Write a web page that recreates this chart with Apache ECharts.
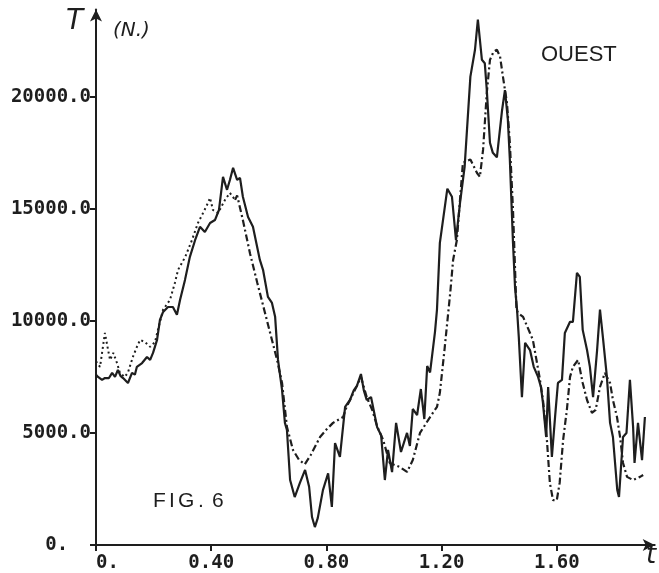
<!DOCTYPE html>
<html>
<head>
<meta charset="utf-8">
<script src="https://cdn.jsdelivr.net/npm/echarts@6/dist/echarts.min.js"></script>
<style>html,body{margin:0;padding:0;background:#fff;}#c{width:659px;height:573px;}</style>
</head>
<body>
<div id="c"></div>
<script>
// Solid curve (measured)
const solidT = [0.0,0.007,0.021,0.031,0.045,0.056,0.066,0.076,0.085,0.094,0.111,0.125,0.135,0.142,0.16,0.177,0.188,0.198,0.212,0.222,0.233,0.25,0.267,0.281,0.292,0.309,0.326,0.344,0.361,0.378,0.396,0.413,0.427,0.441,0.455,0.465,0.476,0.49,0.5,0.51,0.528,0.545,0.569,0.58,0.597,0.611,0.622,0.632,0.646,0.656,0.663,0.674,0.69,0.708,0.726,0.74,0.75,0.76,0.77,0.788,0.806,0.819,0.83,0.847,0.865,0.882,0.895,0.906,0.92,0.93,0.94,0.955,0.976,0.99,1.003,1.014,1.028,1.042,1.059,1.08,1.09,1.10,1.115,1.128,1.14,1.15,1.16,1.177,1.184,1.194,1.22,1.236,1.25,1.264,1.28,1.30,1.316,1.326,1.34,1.35,1.357,1.368,1.378,1.392,1.41,1.42,1.43,1.437,1.448,1.455,1.462,1.468,1.479,1.49,1.507,1.52,1.535,1.545,1.552,1.563,1.57,1.583,1.594,1.604,1.618,1.628,1.646,1.656,1.67,1.68,1.69,1.705,1.715,1.726,1.74,1.75,1.76,1.774,1.785,1.795,1.81,1.816,1.83,1.842,1.854,1.865,1.87,1.882,1.896,1.906];
const solidV = [7600,7500,7370,7450,7450,7680,7500,7810,7550,7450,7230,7680,7600,7950,8120,8390,8260,8570,9150,10040,10400,10620,10620,10270,10940,11830,12860,13600,14200,13970,14370,14500,14950,16430,15850,16290,16830,16290,16380,15540,14640,14200,12720,12280,11070,10800,10180,8260,6920,5450,5130,2900,2140,2770,3350,2600,1250,800,1200,2450,3200,1700,4550,3930,6160,6470,6900,7100,7630,6900,6470,6600,5270,4900,2900,4240,3250,5450,4150,5000,4420,6070,5800,6960,5620,7990,7700,9500,10500,13480,15900,15540,13600,15270,16870,20900,22100,23440,21650,21500,20300,17950,17500,17300,19400,20300,19000,17200,13480,11500,10500,9300,6600,9020,8700,7950,7500,7050,6340,4820,7050,3930,5710,7230,7370,9460,9960,9960,12140,11960,9600,8700,7950,6600,8700,10500,9290,7500,5450,4820,2460,2140,4820,5000,7370,5270,3660,5450,3790,5710];

// Computed curve, first part (dotted)
const dotT = [0.0,0.014,0.031,0.042,0.049,0.06,0.073,0.083,0.10,0.111,0.128,0.142,0.153,0.17,0.188,0.205,0.215,0.233,0.257,0.274,0.285,0.31,0.333,0.354,0.372,0.389,0.396,0.406,0.424,0.448,0.465,0.483];
const dotV = [8200,7950,9460,8700,8260,8570,8120,7680,7500,7700,8390,8840,9150,9060,8840,9060,9600,10500,10940,11700,12280,12860,13600,14370,14820,15270,15490,14950,14820,15400,15710,15400];

// Computed curve, second part (dash-dot)
const dashT = [0.483,0.49,0.51,0.535,0.56,0.58,0.604,0.628,0.646,0.663,0.684,0.705,0.725,0.745,0.778,0.80,0.823,0.858,0.87,0.882,0.906,0.92,0.94,0.96,0.976,0.997,1.02,1.055,1.08,1.10,1.125,1.16,1.184,1.194,1.21,1.23,1.24,1.253,1.274,1.30,1.323,1.333,1.344,1.357,1.368,1.38,1.392,1.403,1.413,1.427,1.437,1.448,1.46,1.466,1.483,1.507,1.517,1.54,1.552,1.565,1.576,1.587,1.60,1.61,1.622,1.635,1.646,1.656,1.674,1.69,1.705,1.722,1.735,1.75,1.767,1.785,1.795,1.809,1.82,1.83,1.844,1.865,1.889,1.9];
const dashV = [15400,15600,14500,13000,11700,10700,9500,8300,7230,5270,4240,3800,3600,4000,4820,5150,5450,5710,6160,6470,7100,7500,6600,6000,5300,4690,3660,3480,3260,3790,5000,5710,6160,6790,8700,11250,12720,13600,17050,17200,16600,16430,17630,20180,21650,22000,22100,21800,20900,19730,17950,14950,10500,10350,10180,9460,9150,7500,6470,4820,2770,2000,2000,2770,4690,6030,7500,7950,8260,7230,6470,5900,6030,7050,7680,7230,6470,5710,4800,3660,3040,2900,3040,3125];

const xTicks = [0, 0.4, 0.8, 1.2, 1.6];
const yTicks = [0, 5000, 10000, 15000, 20000];

const zip = (a, b) => a.map((t, i) => [t, b[i]]);
const ink = '#1e1e1e';
const mono = 'DejaVu Sans Mono';
const sans = '21px "Liberation Sans"';

const chart = echarts.init(document.getElementById('c'), null, {renderer: 'canvas'});
chart.setOption({
  animation: false,
  backgroundColor: '#ffffff',
  grid: {left: 96, right: 4.3, top: 9.4, bottom: 27, containLabel: false},
  xAxis: {
    type: 'value', min: 0, max: 1.94, interval: 0.4,
    splitLine: {show: false},
    axisLine: {show: true, onZero: false, symbol: ['none', 'arrow'], symbolSize: [9, 12], lineStyle: {color: ink, width: 2}},
    axisTick: {show: true, length: 6, customValues: xTicks, lineStyle: {color: ink, width: 2}},
    axisLabel: {
      customValues: xTicks, margin: 9, color: ink, fontFamily: mono, fontWeight: 'bold', fontSize: 19,
      formatter: v => v === 0 ? '  0.' : v.toFixed(2)
    }
  },
  yAxis: {
    type: 'value', min: 0, max: 23900, interval: 5000,
    splitLine: {show: false},
    axisLine: {show: true, onZero: false, symbol: ['none', 'arrow'], symbolSize: [9, 12], lineStyle: {color: ink, width: 2}},
    axisTick: {show: true, length: 6, customValues: yTicks, lineStyle: {color: ink, width: 2}},
    axisLabel: {
      customValues: yTicks, margin: 5, color: ink, fontFamily: mono, fontWeight: 'bold', fontSize: 19,
      formatter: v => v === 0 ? '0.  ' : v.toFixed(1)
    }
  },
  series: [
    {name: 'solid', type: 'line', data: zip(solidT, solidV), showSymbol: false, symbol: 'none',
     lineStyle: {color: ink, width: 2.2}},
    {name: 'dotted', type: 'line', data: zip(dotT, dotV), showSymbol: false, symbol: 'none',
     lineStyle: {color: ink, width: 2, type: [2, 3]}},
    {name: 'dashdot', type: 'line', data: zip(dashT, dashV), showSymbol: false, symbol: 'none',
     lineStyle: {color: ink, width: 2.2, type: [7, 3, 2, 3]}}
  ],
  graphic: [
    {type: 'text', left: 66, top: 8, style: {text: 'T', font: 'italic 28px "DejaVu Sans"', fill: ink}},
    {type: 'text', left: 113, top: 21, style: {text: '(N.)', font: 'italic 20px "DejaVu Sans"', fill: ink}},
    {type: 'text', left: 541, top: 44, style: {text: 'OUEST', font: '22px "Liberation Sans"', fill: ink}},
    {type: 'text', left: 153, top: 491, style: {text: 'F', font: sans, fill: ink}},
    {type: 'text', left: 169, top: 491, style: {text: 'I', font: sans, fill: ink}},
    {type: 'text', left: 178, top: 491, style: {text: 'G', font: sans, fill: ink}},
    {type: 'text', left: 198, top: 491, style: {text: '.', font: sans, fill: ink}},
    {type: 'text', left: 212, top: 491, style: {text: '6', font: sans, fill: ink}},
    {type: 'text', left: 646, top: 543, style: {text: 't', font: 'italic 26px "DejaVu Sans"', fill: ink}}
  ]
});
</script>
</body>
</html>
